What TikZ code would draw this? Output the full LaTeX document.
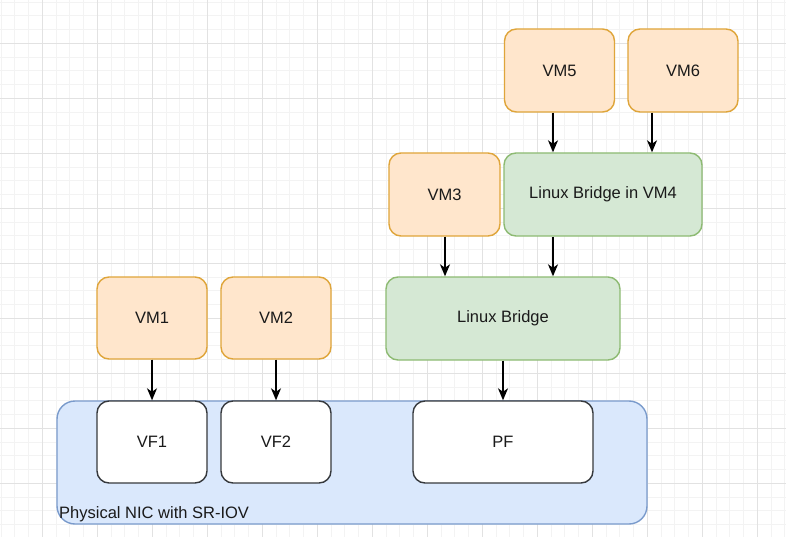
\documentclass[tikz,border=0pt]{standalone}
\usepackage{fontspec}
\setmainfont{Liberation Sans}
\usetikzlibrary{arrows.meta}
\definecolor{orfill}{HTML}{FFE6CC}
\definecolor{ordraw}{HTML}{DFA53A}
\definecolor{grfill}{HTML}{D5E8D4}
\definecolor{grdraw}{HTML}{8DBA72}
\definecolor{blfill}{HTML}{DAE8FC}
\definecolor{bldraw}{HTML}{7A9BCC}
\definecolor{whdraw}{HTML}{36393D}
\definecolor{txt}{HTML}{1A1A1A}
\definecolor{gridminor}{HTML}{F3F3F3}
\definecolor{gridmajor}{HTML}{E2E2E2}
\begin{document}
\begin{tikzpicture}[x=1pt,y=-1pt,
  font=\fontsize{16.5}{19}\selectfont,
  box/.style={line width=1.4pt, rounded corners=12pt, inner sep=0pt, text=txt},
  vmbox/.style={box, draw=ordraw, fill=orfill},
  brbox/.style={box, draw=grdraw, fill=grfill},
  fnbox/.style={box, draw=whdraw, fill=white},
  nicbox/.style={box, draw=bldraw, fill=blfill, rounded corners=18pt},
  arr/.style={line width=1.4pt, draw=black, -{Stealth[length=12pt,width=10pt,inset=3.5pt]}}
]
\useasboundingbox (0,0) rectangle (786,537);
\fill[white] (0,0) rectangle (786,537);
% grid
\foreach \i in {0,...,57} {
  \draw[gridminor, line width=0.8pt] ({1.05+13.75*\i},0) -- ({1.05+13.75*\i},537);
}
\foreach \i in {0,...,39} {
  \draw[gridminor, line width=0.8pt] (0,{2.05+13.75*\i}) -- (786,{2.05+13.75*\i});
}
\foreach \i in {0,...,14} {
  \draw[gridmajor, line width=0.9pt] ({42.3+55*\i},0) -- ({42.3+55*\i},537);
}
\foreach \i in {0,...,9} {
  \draw[gridmajor, line width=0.9pt] (0,{43.3+55*\i}) -- (786,{43.3+55*\i});
}

% NIC
\node[nicbox, minimum width=590pt, minimum height=123pt] (nic) at (352,462.5) {};
\node[anchor=base west, text=txt, inner sep=0pt] (niclabel) at (59,518) {Physical NIC with SR-IOV};

% functions
\node[fnbox, minimum width=110pt, minimum height=82pt] (vf1) at (152,442) {VF1};
\node[fnbox, minimum width=110pt, minimum height=82pt] (vf2) at (276,442) {VF2};
\node[fnbox, minimum width=180pt, minimum height=82pt] (pf) at (503,442) {PF};

% VMs row 1
\node[vmbox, minimum width=110pt, minimum height=82pt] (vm1) at (152,318) {VM1};
\node[vmbox, minimum width=110pt, minimum height=82pt] (vm2) at (276,318) {VM2};
\node[brbox, minimum width=234pt, minimum height=83pt] (lb) at (503,318.5) {Linux Bridge};

% row 2
\node[vmbox, minimum width=111pt, minimum height=83pt] (vm3) at (444.5,194.5) {VM3};
\node[brbox, minimum width=198pt, minimum height=83pt] (br4) at (603,194.5) {Linux Bridge in VM4};

% row 3
\node[vmbox, minimum width=110pt, minimum height=83pt] (vm5) at (559.5,70.5) {VM5};
\node[vmbox, minimum width=110pt, minimum height=83pt] (vm6) at (683,70.5) {VM6};

% x positions of connectors
\coordinate (xa) at (445,0);
\coordinate (xb) at (553,0);
\coordinate (xc) at (652,0);

% connectors
\draw[arr] (vm1) -- (vf1);
\draw[arr] (vm2) -- (vf2);
\draw[arr] (lb) -- (pf);
\draw[arr] (vm3.south -| xa) -- (lb.north -| xa);
\draw[arr] (br4.south -| xb) -- (lb.north -| xb);
\draw[arr] (vm5.south -| xb) -- (br4.north -| xb);
\draw[arr] (vm6.south -| xc) -- (br4.north -| xc);
\end{tikzpicture}
\end{document}
